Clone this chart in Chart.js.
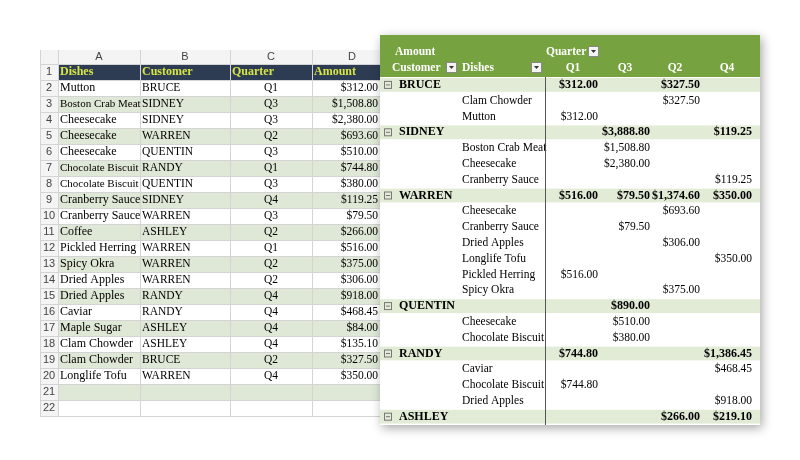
<!DOCTYPE html>
<html><head><meta charset="utf-8">
<script src="https://cdn.jsdelivr.net/npm/chart.js@4"></script>
<style>body{margin:0;background:#fff}</style>
</head><body>
<canvas id="c" width="800" height="460"></canvas>
<script>
// source table (sheet rows 2..20)
const dishes = ['Mutton','Boston Crab Meat','Cheesecake','Cheesecake','Cheesecake','Chocolate Biscuit','Chocolate Biscuit','Cranberry Sauce','Cranberry Sauce','Coffee','Pickled Herring','Spicy Okra','Dried Apples','Dried Apples','Caviar','Maple Sugar','Clam Chowder','Clam Chowder','Longlife Tofu'];
const customers = ['BRUCE','SIDNEY','SIDNEY','WARREN','QUENTIN','RANDY','QUENTIN','SIDNEY','WARREN','ASHLEY','WARREN','WARREN','WARREN','RANDY','RANDY','ASHLEY','ASHLEY','BRUCE','WARREN'];
const quarters = ['Q1','Q3','Q3','Q2','Q3','Q1','Q3','Q4','Q3','Q2','Q1','Q2','Q2','Q4','Q4','Q4','Q4','Q2','Q4'];
const amounts = [312.00,1508.80,2380.00,693.60,510.00,744.80,380.00,119.25,79.50,266.00,516.00,375.00,306.00,918.00,468.45,84.00,135.10,327.50,350.00];
const colLetters = ['A','B','C','D'];
const headers = ['Dishes','Customer','Quarter','Amount'];

const fmt = v => '$' + v.toLocaleString('en-US',{minimumFractionDigits:2,maximumFractionDigits:2});
const uniq = a => a.filter((v,i)=>a.indexOf(v)===i);
const custOrder = uniq(customers);
const qOrder = uniq(quarters);

// pivot rows
const pivotRows = [];
custOrder.forEach(c => {
  const idx = customers.map((v,i)=>v===c?i:-1).filter(i=>i>=0);
  const tot = {};
  idx.forEach(i => tot[quarters[i]] = (tot[quarters[i]]||0) + amounts[i]);
  pivotRows.push({cust:c, vals:tot});
  uniq(idx.map(i=>dishes[i])).sort().forEach(d => {
    const v = {};
    idx.filter(i=>dishes[i]===d).forEach(i => v[quarters[i]] = (v[quarters[i]]||0) + amounts[i]);
    pivotRows.push({dish:d, vals:v});
  });
});

const tablePlugin = {
  id:'table',
  afterDraw(chart){
    const ctx = chart.ctx, sx = chart.scales.x, sy = chart.scales.y;
    const X = v => sx.getPixelForValue(v), Y = v => sy.getPixelForValue(v);
    ctx.save();
    // ---- spreadsheet ----
    const cols = [40,58,140,230,312,392];
    const top = 64, rh = 16;
    ctx.fillStyle = '#f4f4f4';
    ctx.fillRect(X(40),Y(50),X(392)-X(40),Y(top)-Y(50));
    ctx.fillRect(X(40),Y(top),X(58)-X(40),Y(top+22*rh)-Y(top));
    ctx.fillStyle = '#2e3c53';
    ctx.fillRect(X(58),Y(top),X(392)-X(58),rh);
    for (let r=3;r<=21;r+=2){
      ctx.fillStyle='#dfe8d6'; ctx.fillRect(X(58),Y(top+(r-1)*rh),X(392)-X(58),rh);
    }
    ctx.strokeStyle='#d4d4d4'; ctx.lineWidth=1;
    for (let r=0;r<=22;r++){ const y=Math.round(Y(top+r*rh))+0.5; ctx.beginPath(); ctx.moveTo(X(40),y); ctx.lineTo(X(392),y); ctx.stroke(); }
    cols.forEach(c=>{ const x=Math.round(X(c))+0.5; ctx.beginPath(); ctx.moveTo(x,Y(50)); ctx.lineTo(x,Y(top+22*rh)); ctx.stroke(); });
    ctx.font='11px "Liberation Sans"'; ctx.fillStyle='#444'; ctx.textAlign='center'; ctx.textBaseline='middle';
    colLetters.forEach((l,i)=>ctx.fillText(l,(X(cols[i+1])+X(cols[i+2]))/2,Y(57)));
    for (let r=1;r<=22;r++) ctx.fillText(String(r),X(49),Y(top+(r-0.5)*rh));
    ctx.font='bold 12px "Liberation Serif"'; ctx.fillStyle='#d8e645'; ctx.textAlign='left';
    headers.forEach((h,i)=>ctx.fillText(h,X(cols[i+1]+2),Y(top+rh/2)));
    ctx.fillStyle='#000';
    dishes.forEach((d,i)=>{
      const y=Y(top+(i+1.5)*rh);
      ctx.font = d.length>15 ? '11px "Liberation Serif"' : '12px "Liberation Serif"';
      ctx.textAlign='left'; ctx.fillText(d,X(60),y);
      ctx.font='11.5px "Liberation Serif"'; ctx.fillText(customers[i],X(142),y);
      ctx.textAlign='center'; ctx.fillText(quarters[i],(X(230)+X(312))/2,y);
      ctx.textAlign='right'; ctx.fillText(fmt(amounts[i]),X(378),y);
    });
    // ---- pivot ----
    const pl=380, pr=760, pt=35, pb=425;
    ctx.shadowColor='rgba(0,0,0,0.35)'; ctx.shadowBlur=10; ctx.shadowOffsetX=2; ctx.shadowOffsetY=3;
    ctx.fillStyle='#fff'; ctx.fillRect(X(pl),Y(pt),X(pr)-X(pl),Y(pb)-Y(pt));
    ctx.shadowColor='transparent';
    ctx.beginPath(); ctx.rect(X(pl),Y(pt),X(pr)-X(pl),Y(pb)-Y(pt)); ctx.clip();
    ctx.fillStyle='#76a23f'; ctx.fillRect(X(pl),Y(pt),X(pr)-X(pl),Y(77)-Y(pt));
    ctx.fillStyle='#fff'; ctx.font='bold 11.5px "Liberation Serif"'; ctx.textAlign='left';
    ctx.fillText('Amount',X(395),Y(52)); ctx.fillText('Quarter',X(546),Y(52));
    ctx.fillText('Customer',X(392),Y(68)); ctx.fillText('Dishes',X(462),Y(68));
    const qx = {}; [598,650,700,752].forEach((x,i)=>qx[qOrder[i]]=x);
    ctx.textAlign='center';
    qOrder.forEach(q=>ctx.fillText(q,X(qx[q]-25),Y(68)));
    const btn=(x,y)=>{ ctx.fillStyle='#f4f4f4'; ctx.fillRect(X(x),Y(y),11,11); ctx.strokeStyle='#888'; ctx.strokeRect(X(x)+0.5,Y(y)+0.5,10,10);
      ctx.fillStyle='#333'; ctx.beginPath(); ctx.moveTo(X(x)+3,Y(y)+4); ctx.lineTo(X(x)+8,Y(y)+4); ctx.lineTo(X(x)+5.5,Y(y)+7); ctx.fill(); };
    btn(588,46); btn(446,62); btn(531,62);
    const prh=15.8, p0=77;
    pivotRows.forEach((r,i)=>{
      const y0=p0+i*prh, yc=Y(y0+prh/2);
      if (y0+prh/2 > pb) return;
      if (r.cust){
        ctx.fillStyle='#e2ebd6'; ctx.fillRect(X(pl),Y(y0+1),X(pr)-X(pl),prh-2);
        ctx.strokeStyle='#777'; ctx.strokeRect(X(384)+0.5,yc-3.5,7,7);
        ctx.beginPath(); ctx.moveTo(X(386),yc); ctx.lineTo(X(390),yc); ctx.stroke();
        ctx.fillStyle='#000'; ctx.font='bold 12px "Liberation Serif"'; ctx.textAlign='left';
        ctx.fillText(r.cust,X(399),yc);
      } else {
        ctx.fillStyle='#000'; ctx.font='11.5px "Liberation Serif"'; ctx.textAlign='left';
        ctx.fillText(r.dish,X(462),yc);
      }
      ctx.textAlign='right';
      Object.keys(r.vals).forEach(q=>ctx.fillText(fmt(r.vals[q]),X(qx[q]),yc));
    });
    ctx.strokeStyle='#555'; ctx.beginPath(); ctx.moveTo(Math.round(X(545))+0.5,Y(77)); ctx.lineTo(Math.round(X(545))+0.5,Y(pb)); ctx.stroke();
    ctx.restore();
  }
};

new Chart(document.getElementById('c'), {
  type:'scatter',
  data:{datasets:[{data:[]}]},
  options:{
    responsive:false, animation:false, devicePixelRatio:1,
    layout:{padding:0},
    plugins:{legend:{display:false},tooltip:{enabled:false}},
    scales:{
      x:{type:'linear',min:0,max:800,display:false},
      y:{type:'linear',min:0,max:460,reverse:true,display:false}
    }
  },
  plugins:[tablePlugin]
});
</script>
</body></html>
